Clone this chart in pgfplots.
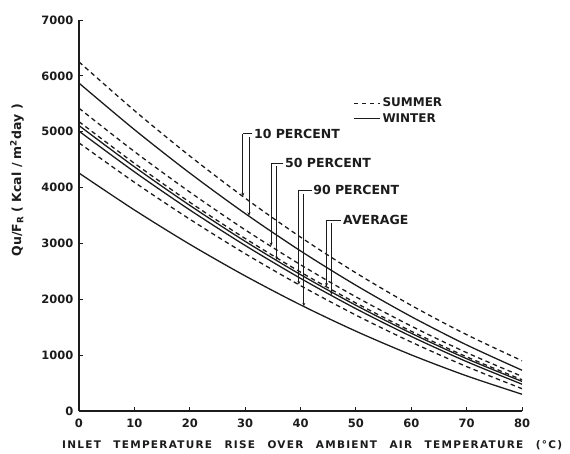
\documentclass[border=0pt]{standalone}
\usepackage{fontspec}
\setmainfont{DejaVu Sans}
\usepackage{pgfplots}
\pgfplotsset{compat=1.18}
\usetikzlibrary{calc,arrows.meta}
\definecolor{ink}{HTML}{1C1C1C}
\tikzset{
  summer/.style={ink, line width=1.3pt, dash pattern=on 4.5pt off 3.5pt, smooth},
  winter/.style={ink, line width=1.3pt, smooth},
  brk/.style={ink, line width=0.9pt},
  brka/.style={ink, line width=0.9pt, -{Stealth[length=3.5pt,width=3pt]}},
  lab/.style={font=\bfseries\fontsize{12.5}{14}\selectfont, text=ink, inner sep=1pt}
}
\begin{document}
\begin{tikzpicture}
\begin{axis}[
  name=ax,
  width=443pt, height=391pt, scale only axis,
  xmin=0, xmax=80, ymin=0, ymax=7000,
  axis x line*=bottom, axis y line*=left,
  axis line style={line width=1.1pt, ink, -},
  xtick={0,10,...,80}, ytick={0,1000,...,7000},
  scaled y ticks=false,
  /pgf/number format/assume math mode=true,
  /pgf/number format/set thousands separator={},
  tick style={line width=0.8pt, ink},
  major tick length=4pt,
  tick align=inside,
  tick label style={font=\bfseries\fontsize{11.5}{13}\selectfont, text=ink},
  yticklabel style={xshift=-2pt},
  xticklabel style={yshift=-4pt},
  ylabel={Qu/F\textsubscript{R} ( Kcal / m\textsuperscript{2}day )},
  ylabel style={at={(axis description cs:-0.14,0.59)}, anchor=center,
    font=\bfseries\fontsize{12.5}{14}\selectfont, text=ink},
  clip=false,
  legend style={at={(axis cs:49.3,5660)}, anchor=north west, draw=none, fill=none,
    font=\bfseries\fontsize{12}{13}\selectfont, text=ink, inner sep=1pt,
    row sep=1pt, cells={anchor=west}},
  legend image code/.code={\draw[#1] (0pt,0pt) -- (26pt,0pt);},
]
% 10 percent
\addplot[summer] coordinates {(0,6250) (10,5379) (20,4566) (30,3811) (40,3113) (50,2473) (60,1891) (70,1367) (80,900)};
\addplot[winter] coordinates {(0,5870) (10,5038) (20,4260) (30,3536) (40,2866) (50,2251) (60,1690) (70,1183) (80,730)};
% 50 percent
\addplot[summer] coordinates {(0,5420) (10,4645) (20,3920) (30,3244) (40,2619) (50,2044) (60,1520) (70,1045) (80,620)};
\addplot[winter] coordinates {(0,5110) (10,4372) (20,3682) (30,3038) (40,2442) (50,1893) (60,1392) (70,937) (80,530)};
% average
\addplot[summer] coordinates {(0,5180) (10,4435) (20,3738) (30,3089) (40,2487) (50,1934) (60,1428) (70,970) (80,560)};
\addplot[winter] coordinates {(0,5010) (10,4282) (20,3600) (30,2964) (40,2375) (50,1832) (60,1335) (70,884) (80,480)};
% 90 percent
\addplot[summer] coordinates {(0,4800) (10,4095) (20,3434) (30,2817) (40,2245) (50,1717) (60,1234) (70,795) (80,400)};
\addplot[winter] coordinates {(0,4260) (10,3599) (20,2985) (30,2419) (40,1900) (50,1429) (60,1005) (70,629) (80,300)};

\addlegendimage{ink, line width=1.1pt, dash pattern=on 3pt off 2.5pt}
\addlegendentry{SUMMER}
\addlegendimage{ink, line width=1.1pt}
\addlegendentry{WINTER}

% annotations
\draw[brk] (axis cs:31.3,4960) -- (axis cs:29.6,4960);
\draw[brka] (axis cs:29.6,4960) -- (axis cs:29.6,3845);
\draw[brka] (axis cs:30.7,4900) -- (axis cs:30.7,3495);
\node[lab, anchor=west] at (axis cs:31.4,4960) {10 PERCENT};

\draw[brk] (axis cs:36.9,4440) -- (axis cs:34.7,4440);
\draw[brka] (axis cs:34.7,4440) -- (axis cs:34.7,2955);
\draw[brka] (axis cs:35.7,4380) -- (axis cs:35.7,2705);
\node[lab, anchor=west] at (axis cs:37.0,4440) {50 PERCENT};

\draw[brk] (axis cs:42.0,3950) -- (axis cs:39.7,3950);
\draw[brka] (axis cs:39.7,3950) -- (axis cs:39.7,2265);
\draw[brka] (axis cs:40.6,3890) -- (axis cs:40.6,1875);
\node[lab, anchor=west] at (axis cs:42.1,3950) {90 PERCENT};

\draw[brk] (axis cs:47.4,3420) -- (axis cs:44.7,3420);
\draw[brka] (axis cs:44.7,3420) -- (axis cs:44.7,2230);
\draw[brka] (axis cs:45.6,3360) -- (axis cs:45.6,2075);
\node[lab, anchor=west] at (axis cs:47.5,3420) {AVERAGE};
\end{axis}
\node[anchor=west, inner sep=0pt, text=ink, font=\bfseries\fontsize{10.5}{12}\selectfont]
  at ($(ax.south west)+(-17pt,-34pt)$)
  {\addfontfeature{LetterSpace=12}\makebox[500pt][s]{INLET TEMPERATURE RISE OVER AMBIENT AIR TEMPERATURE (\textdegree C)}};
\pgfresetboundingbox
\path[use as bounding box] ($(ax.south west)+(-79pt,-42pt)$) rectangle ($(ax.north east)+(48pt,20pt)$);
\end{tikzpicture}
\end{document}
